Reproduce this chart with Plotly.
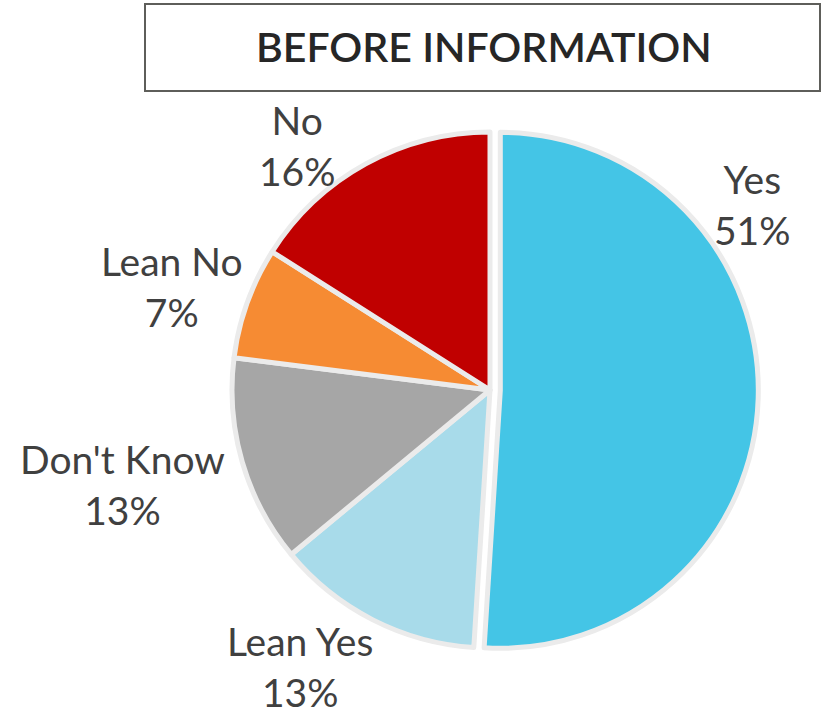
import plotly.graph_objects as go

labels = ["Yes", "Lean Yes", "Don't Know", "Lean No", "No"]
values = [51, 13, 13, 7, 16]
colors = ["#44C5E6", "#A8DBEA", "#A6A6A6", "#F68B33", "#C00000"]
pulls = [0.04, 0, 0, 0, 0]
title_text = "BEFORE INFORMATION"

# label placement (pixel centres of each label block), layout only
label_pos = {"Yes": (752, 205), "Lean Yes": (300, 666), "Don't Know": (123, 484),
             "Lean No": (172, 286), "No": (297, 146)}

W, H = 824, 714
cx, cy, r = 490, 390, 258
R = r * (1 + max(pulls))

fig = go.Figure(go.Pie(
    labels=labels,
    values=values,
    sort=False,
    direction="clockwise",
    rotation=0,
    pull=pulls,
    marker=dict(colors=colors, line=dict(color="#EBEBEB", width=5)),
    textinfo="none",
    automargin=False,
    showlegend=False,
    hoverinfo="label+percent",
    domain=dict(x=[(cx - R) / W, (cx + R) / W], y=[1 - (cy + R) / H, 1 - (cy - R) / H]),
))

total = sum(values)
for lab, val in zip(labels, values):
    px, py = label_pos[lab]
    fig.add_annotation(text=f"{lab}<br>{round(100 * val / total)}%",
                       xref="paper", yref="paper", x=px / W, y=1 - py / H,
                       xanchor="center", yanchor="middle", showarrow=False,
                       font=dict(family="Lato", size=39, color="#404040"))

fig.add_shape(type="rect", xref="paper", yref="paper",
              x0=145 / W, x1=820 / W, y0=1 - 91 / H, y1=1 - 4 / H,
              line=dict(color="#5E5E5A", width=2), fillcolor="white", layer="below")
fig.add_annotation(text=title_text, xref="paper", yref="paper",
                   x=484 / W, y=1 - 47 / H, xanchor="center", yanchor="middle",
                   showarrow=False,
                   font=dict(family="Lato", size=41, color="#262626", weight=600))

fig.update_layout(width=W, height=H,
                  margin=dict(l=0, r=0, t=0, b=0, autoexpand=False),
                  paper_bgcolor="white", plot_bgcolor="white")

fig.write_html("out.html", config={"displayModeBar": False},
               post_script="document.body.style.margin='0';document.body.style.overflow='hidden';")
